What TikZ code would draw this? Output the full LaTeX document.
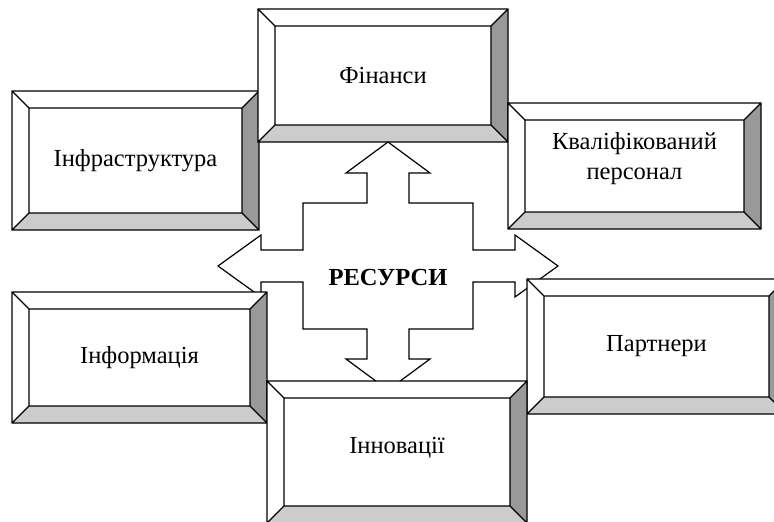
\documentclass[tikz,border=0pt]{standalone}
\usepackage{fontspec}
\setmainfont{Liberation Serif}
\usetikzlibrary{calc}
\definecolor{bvDark}{HTML}{999999}
\definecolor{bvLight}{HTML}{CCCCCC}
\definecolor{bvInk}{HTML}{000000}
\newcommand{\BVType}{\fontsize{24.5}{30}\selectfont}
\tikzset{bv/base/.style={x=1pt,y=-1pt,line cap=butt,line join=miter,
  every node/.style={font=\BVType,inner sep=0pt,text=bvInk}},
  bv/line/.style={draw=bvInk,line width=1.2pt},
  bv/dark/.style={fill=bvDark},
  bv/light/.style={fill=bvLight},
  bv/label/.style={align=center},
  bv/cross/.style={draw=bvInk,fill=white,line width=1.2pt}}
% bevelled frame: name, x1, y1, x2, y2, text, text offset
\newcommand{\BevelBox}[7]{%
  \pgfmathsetmacro{\bvXa}{#2+17}\pgfmathsetmacro{\bvYa}{#3+17}%
  \pgfmathsetmacro{\bvXb}{#4-17}\pgfmathsetmacro{\bvYb}{#5-17}%
  \fill[white] (#2,#3) rectangle (#4,#5);
  \fill[bv/dark] (#4,#3)--(#4,#5)--(\bvXb,\bvYb)--(\bvXb,\bvYa)--cycle;
  \fill[bv/light] (#2,#5)--(#4,#5)--(\bvXb,\bvYb)--(\bvXa,\bvYb)--cycle;
  \draw[bv/line] (#2,#3) rectangle (#4,#5) (\bvXa,\bvYa) rectangle (\bvXb,\bvYb)
    (#2,#3)--(\bvXa,\bvYa) (#4,#3)--(\bvXb,\bvYa)
    (#4,#5)--(\bvXb,\bvYb) (#2,#5)--(\bvXa,\bvYb);
  \node[bv/label] (#1) at ({(#2+#4)/2},{(#3+#5)/2+#7}) {#6};}

\begin{document}
\begin{tikzpicture}[bv/base]
  \useasboundingbox (0,0) rectangle (774,522);
  \clip (0,0) rectangle (774,522);
  \BevelBox{infra}{12}{91}{259}{230}{Інфраструктура}{0}
  \BevelBox{fin}{258}{9}{508}{142}{Фінанси}{0}
  \BevelBox{staff}{508}{103}{761}{229}{Кваліфікований\\персонал}{-7}
  % four-way arrow behind the lower frames
  \draw[bv/cross] (388,142)--(430,173)--(409,173)--(409,203)--(473,203)--(473,250)
    --(515,250)--(515,235)--(558,266)--(515,297)--(515,282)--(473,282)--(473,329)
    --(409,329)--(409,359)--(430,359)--(388,390)--(346,359)--(367,359)--(367,329)
    --(303,329)--(303,282)--(261,282)--(261,297)--(218,266)--(261,235)--(261,250)
    --(303,250)--(303,203)--(367,203)--(367,173)--(346,173)--cycle;
  \node[font=\BVType\bfseries] (res) at (388,278) {РЕСУРСИ};
  \BevelBox{info}{12}{292}{267}{423}{Інформація}{0}
  \BevelBox{partn}{527}{279}{786}{414}{Партнери}{0}
  \BevelBox{innov}{267}{381}{527}{523}{Інновації}{-4}
\end{tikzpicture}
\end{document}
